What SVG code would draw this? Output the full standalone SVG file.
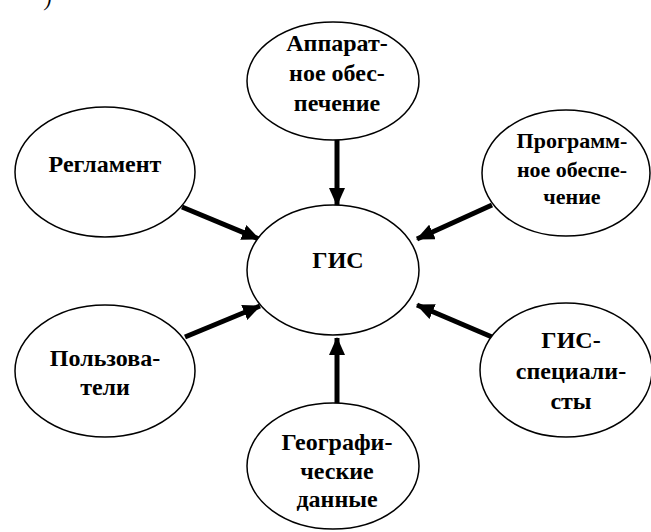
<svg xmlns="http://www.w3.org/2000/svg" width="651" height="532" viewBox="0 0 651 532">
<style>
.n ellipse{fill:#fff;stroke:#000;stroke-width:1.5}
text{font-family:"Liberation Serif","DejaVu Serif",serif;font-weight:700;font-size:24px;text-anchor:middle;fill:#000}
.s{font-size:22px}
.c line{stroke:#000;stroke-width:5}
</style>
<defs>
<marker id="ah" markerUnits="userSpaceOnUse" markerWidth="18" markerHeight="16" refX="17" refY="8" orient="auto">
<polygon points="0,0 18,8 0,16" fill="#000"/>
</marker>
</defs>
<rect width="651" height="532" fill="#fff"/>
<text x="48" y="6" style="font-style:italic;font-weight:normal;font-size:20px">)</text>
<g class="c">
<line x1="337" y1="140" x2="337" y2="205" marker-end="url(#ah)"/>
<line x1="182" y1="207" x2="259" y2="239" marker-end="url(#ah)"/>
<line x1="492" y1="205" x2="417" y2="239" marker-end="url(#ah)"/>
<line x1="185" y1="337" x2="260" y2="306" marker-end="url(#ah)"/>
<line x1="492" y1="337" x2="417" y2="305" marker-end="url(#ah)"/>
<line x1="337" y1="403" x2="337" y2="338" marker-end="url(#ah)"/>
</g>
<g id="gis" class="n"><ellipse cx="333" cy="270" rx="86" ry="65"/><text x="338" y="268">ГИС</text></g>
<g id="hardware" class="n"><ellipse cx="333" cy="81" rx="86" ry="59"/><text x="337" y="51">Аппарат-</text><text x="337" y="81">ное обес-</text><text x="337" y="111">печение</text></g>
<g id="software" class="n"><ellipse cx="566" cy="173" rx="84" ry="63"/><text class="s" x="572" y="148">Программ-</text><text class="s" x="572" y="177">ное обеспе-</text><text class="s" x="572" y="204">чение</text></g>
<g id="reglament" class="n"><ellipse cx="105" cy="172" rx="90" ry="65"/><text x="105" y="172">Регламент</text></g>
<g id="users" class="n"><ellipse cx="105" cy="371" rx="90" ry="66"/><text x="105" y="366">Пользова-</text><text x="105" y="395">тели</text></g>
<g id="specialists" class="n"><ellipse cx="566" cy="370" rx="86" ry="67"/><text x="571" y="348">ГИС-</text><text x="571" y="379">специали-</text><text x="571" y="409">сты</text></g>
<g id="geodata" class="n"><ellipse cx="333" cy="466" rx="86" ry="63"/><text x="337" y="450">Географи-</text><text x="337" y="479">ческие</text><text x="337" y="507">данные</text></g>
</svg>
